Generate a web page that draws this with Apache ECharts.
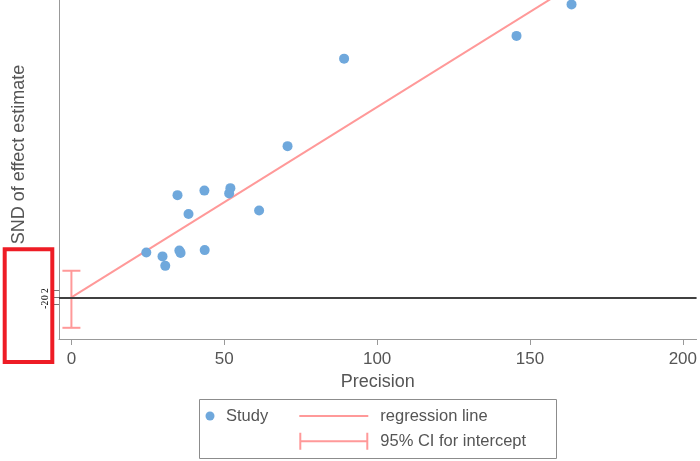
<!DOCTYPE html>
<html>
<head>
<meta charset="utf-8">
<script src="https://cdn.jsdelivr.net/npm/echarts@6/dist/echarts.min.js"></script>
<style>html,body{margin:0;padding:0;background:#fff}#c{width:700px;height:461px}</style>
</head>
<body>
<div id="c"></div>
<script>
// Study points: precision (x) and standard normal deviate (y)
const precision = [24.5, 29.8, 30.7, 35.3, 35.7, 43.6, 34.7, 38.3, 43.5, 52.0, 51.6, 61.4, 70.7, 89.2, 145.6, 163.6];
const snd       = [12.9, 11.8, 9.1, 13.5, 12.8, 13.6, 29.3, 23.9, 30.6, 31.3, 29.8, 24.9, 43.3, 68.3, 74.8, 83.8];
// Regression line end points
const regX = [0, 160];
const regY = [0.1, 87.1];
// 95% CI for intercept
const ciX = 0, ciLow = -8.6, ciHigh = 7.7;
// Axis ticks
const xTicks = [0, 50, 100, 150, 200];
const yTicks = [-2, 0, 2];

const PINK = '#ff9999';
const BLUE = '#6fa8dc';
const TXT = '#555555';
const FONT = 'Liberation Sans, Arial, sans-serif';

const chart = echarts.init(document.getElementById('c'), null, {renderer: 'canvas'});
chart.setOption({
  animation: false,
  backgroundColor: '#ffffff',
  grid: {left: 59, right: 3, top: 0, bottom: 122, containLabel: false},
  xAxis: {
    type: 'value', min: -4.06, max: 204.5,
    name: 'Precision', nameLocation: 'middle', nameGap: 27,
    nameTextStyle: {color: TXT, fontSize: 18, fontFamily: FONT},
    axisLine: {show: true, onZero: false, lineStyle: {color: '#999', width: 1}},
    axisTick: {show: true, customValues: xTicks, length: 6, lineStyle: {color: '#999'}},
    axisLabel: {customValues: xTicks, color: TXT, fontSize: 17, fontFamily: FONT, margin: 12},
    splitLine: {show: false}
  },
  yAxis: {
    type: 'value', min: -11.8, max: 85.06,
    name: 'SND of effect estimate', nameLocation: 'middle', nameGap: 31,
    nameTextStyle: {color: TXT, fontSize: 18, fontFamily: FONT, padding: [0, 0, 0, 30]},
    axisLine: {show: true, onZero: false, lineStyle: {color: '#999', width: 1}},
    axisTick: {show: true, customValues: yTicks, length: 6, lineStyle: {color: '#777'}},
    axisLabel: {customValues: yTicks, rotate: 90, color: '#000', fontSize: 9.5, fontFamily: 'Liberation Serif, serif', margin: 9},
    splitLine: {show: false}
  },
  legend: [
    {
      data: ['Study'], left: 205.5, top: 407.5, padding: 0, selectedMode: false,
      icon: 'circle', itemWidth: 22, itemHeight: 9,
      textStyle: {color: TXT, fontSize: 16.5, fontFamily: FONT}
    },
    {
      data: [
        {name: 'regression line', icon: 'path://M0,7.5 H69 V9.5 H0 Z'},
        {name: '95% CI for intercept', icon: 'path://M0,0 H2 V7.5 H67 V0 H69 V17 H67 V9.5 H2 V17 H0 Z'}
      ],
      orient: 'vertical', left: 299.3, top: 407.5, padding: 0, itemGap: 8.3, selectedMode: false,
      itemWidth: 69, itemHeight: 17,
      textStyle: {color: TXT, fontSize: 16.5, fontFamily: FONT, padding: [0, 0, 0, 7]}
    }
  ],
  graphic: [
    {type: 'rect', shape: {x: 199.5, y: 399.5, width: 357, height: 59}, style: {fill: 'none', stroke: '#8c8c8c', lineWidth: 1}, silent: true},
    {type: 'rect', shape: {x: 4.7, y: 249.3, width: 47.6, height: 112.7}, style: {fill: 'none', stroke: '#ee1c25', lineWidth: 4}, silent: true, z: 100}
  ],
  series: [
    {
      name: 'regression line', type: 'line', data: regX.map((x, i) => [x, regY[i]]),
      showSymbol: false, symbol: 'none', clip: true,
      lineStyle: {color: PINK, width: 2}, itemStyle: {color: PINK}, z: 3,
      markLine: {
        silent: true, symbol: 'none', label: {show: false},
        lineStyle: {color: '#404040', width: 2, type: 'solid'},
        data: [{yAxis: 0}]
      }
    },
    {
      name: '95% CI for intercept', type: 'custom', data: [[ciX, ciLow, ciHigh]],
      itemStyle: {color: PINK}, z: 4,
      renderItem: function (params, api) {
        const lo = api.coord([api.value(0), api.value(1)]);
        const hi = api.coord([api.value(0), api.value(2)]);
        const st = {stroke: PINK, lineWidth: 2};
        return {type: 'group', children: [
          {type: 'line', shape: {x1: lo[0], y1: lo[1], x2: hi[0], y2: hi[1]}, style: st},
          {type: 'line', shape: {x1: hi[0] - 9, y1: hi[1], x2: hi[0] + 9, y2: hi[1]}, style: st},
          {type: 'line', shape: {x1: lo[0] - 9, y1: lo[1], x2: lo[0] + 9, y2: lo[1]}, style: st}
        ]};
      }
    },
    {
      name: 'Study', type: 'scatter', data: precision.map((p, i) => [p, snd[i]]),
      symbol: 'circle', symbolSize: 10, itemStyle: {color: BLUE, opacity: 1}, z: 5
    }
  ]
});
</script>
</body>
</html>
